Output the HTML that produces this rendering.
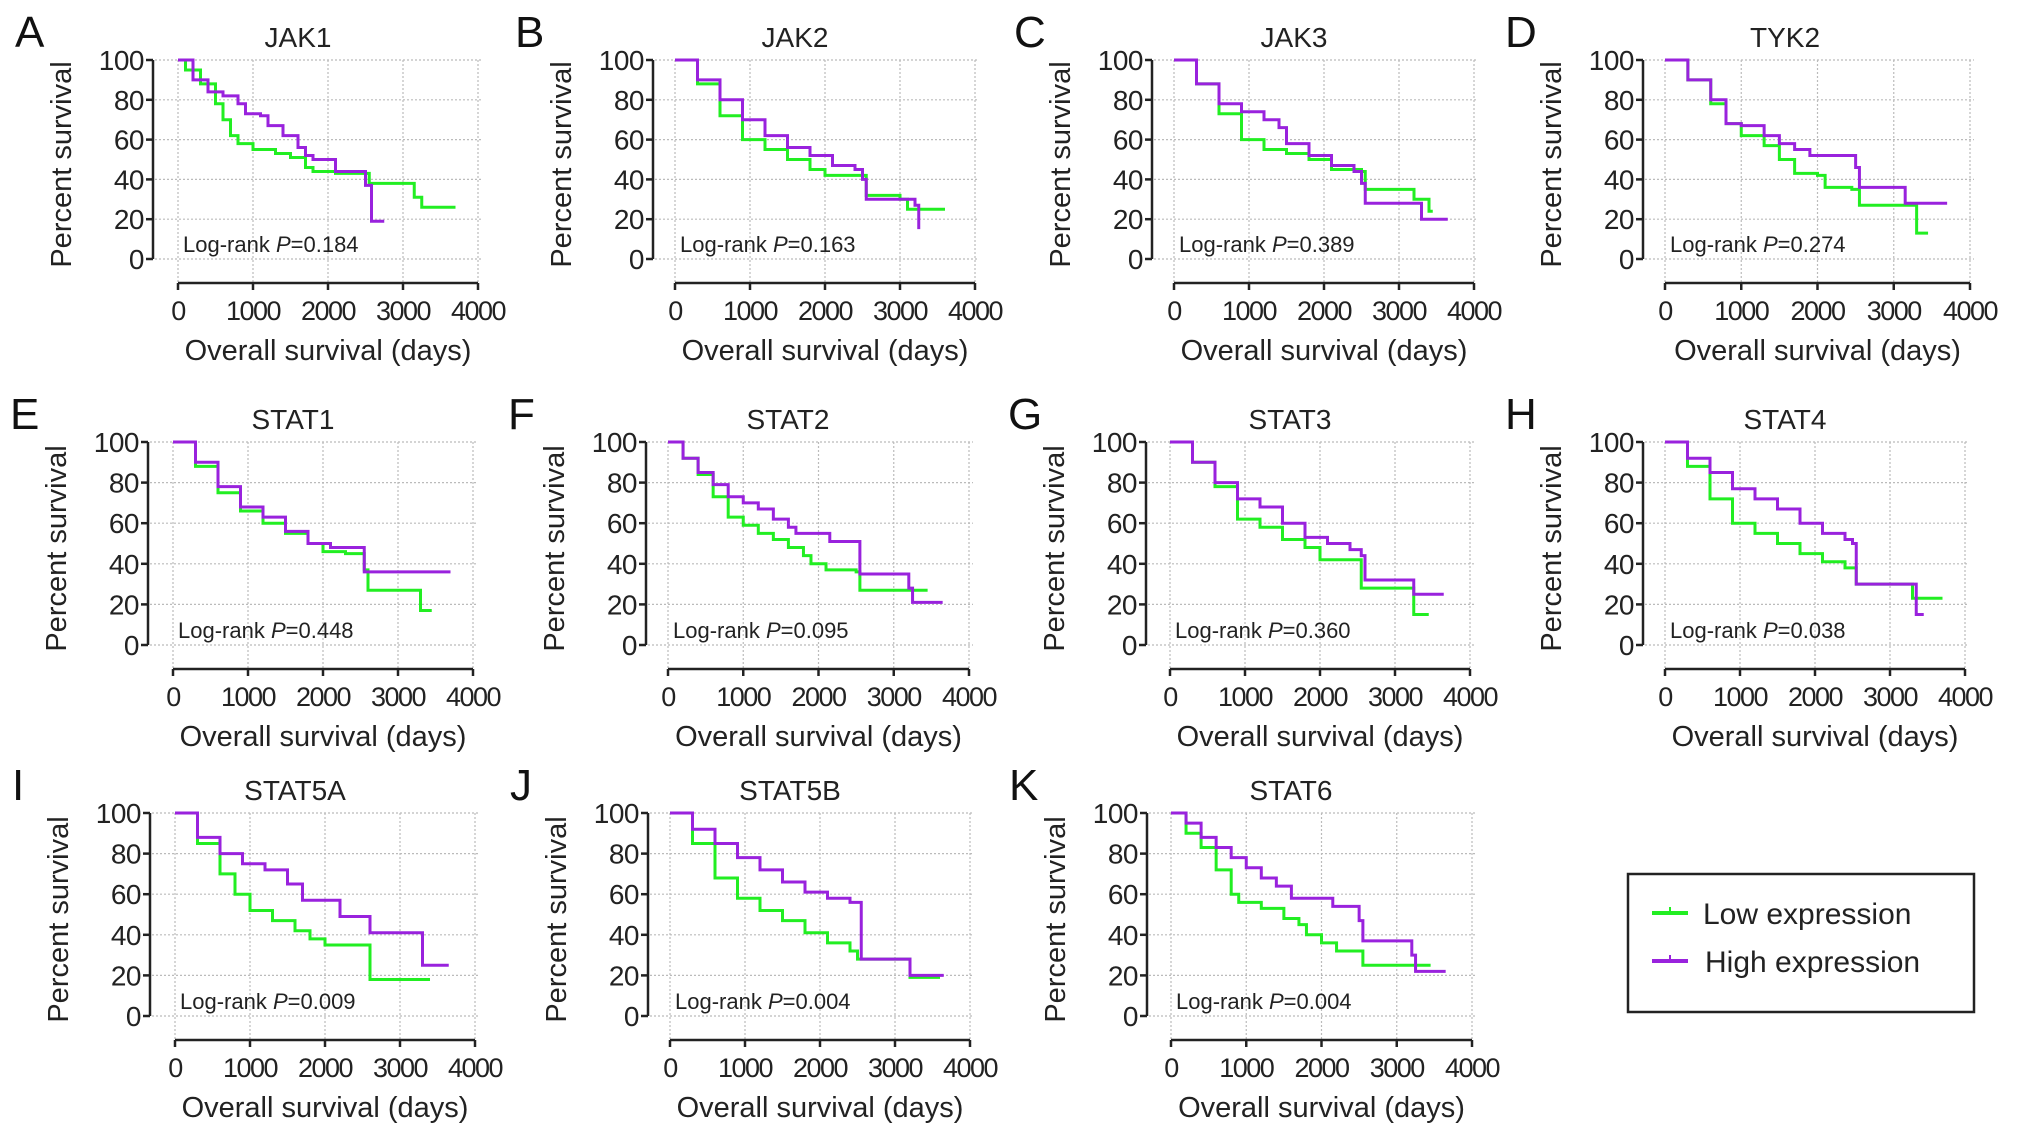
<!DOCTYPE html>
<html><head><meta charset="utf-8"><style>
html,body{margin:0;padding:0;background:#fff;}
svg{display:block;font-family:"Liberation Sans",Arial,sans-serif;}
</style></head><body>
<svg id="fig" width="2032" height="1127" viewBox="0 0 2032 1127">
<g id="panels"></g>
<g>
<rect x="1628" y="874" width="346" height="138" fill="#fff" stroke="#222" stroke-width="2.5"/>
<g>
<line x1="1652" y1="913" x2="1688" y2="913" stroke="#22ee22" stroke-width="4"/>
<line x1="1670" y1="913" x2="1670" y2="907" stroke="#22ee22" stroke-width="2"/>
<text x="1703" y="924" font-size="30" fill="#222">Low expression</text></g>
<g>
<line x1="1652" y1="961" x2="1688" y2="961" stroke="#9922dd" stroke-width="4"/>
<line x1="1670" y1="961" x2="1670" y2="955" stroke="#9922dd" stroke-width="2"/>
<text x="1705" y="972" font-size="30" fill="#222">High expression</text></g>
</g>
</svg>
<script>
// ---- data ----
const genes = ["JAK1","JAK2","JAK3","TYK2","STAT1","STAT2","STAT3","STAT4","STAT5A","STAT5B","STAT6"];
const letters = ["A","B","C","D","E","F","G","H","I","J","K"];
const pValues = ["0.184","0.163","0.389","0.274","0.448","0.095","0.360","0.038","0.009","0.004","0.004"];
const xTicks = [0,1000,2000,3000,4000];
const yTicks = [0,20,40,60,80,100];
const lowT = [
 [0,100,300,500,600,700,800,1000,1300,1500,1700,1800,2100,2500,2550,3150,3250,3700],
 [0,300,600,900,1200,1500,1800,2000,2500,2550,3000,3100,3600],
 [0,300,600,900,1200,1500,1800,2100,2500,2550,3200,3400,3450],
 [0,300,600,800,1000,1300,1500,1700,2000,2100,2450,2550,3300,3450],
 [0,300,600,900,1200,1500,1800,2000,2300,2550,2600,3300,3450],
 [0,200,400,600,800,1000,1200,1400,1600,1800,1900,2100,2500,2550,3450],
 [0,300,600,900,1200,1500,1800,2000,2550,3250,3450],
 [0,300,600,900,1200,1500,1800,2100,2400,2550,3300,3700],
 [0,300,600,800,1000,1300,1600,1800,2000,2600,3400],
 [0,300,600,900,1200,1500,1800,2100,2400,2500,3200,3600],
 [0,200,400,600,800,900,1200,1500,1700,1800,2000,2200,2550,3450]
];
const lowS = [
 [100,95,88,78,70,62,58,55,53,51,46,44,43,43,38,31,26,26],
 [100,88,72,60,55,50,45,42,42,32,30,25,25],
 [100,88,73,60,55,53,50,45,44,35,30,24,24],
 [100,90,78,68,62,57,50,43,42,36,35,27,13,13],
 [100,88,75,66,60,55,50,46,45,37,27,17,17],
 [100,92,84,73,63,59,55,52,48,44,40,37,36,27,27],
 [100,90,78,62,58,52,48,42,28,15,15],
 [100,88,72,60,55,50,45,41,38,30,23,23],
 [100,85,70,60,52,47,42,38,35,18,18],
 [100,85,68,58,52,47,41,36,32,28,19,19],
 [100,90,83,72,60,56,53,48,45,40,36,32,25,25]
];
const highT = [
 [0,200,400,600,800,900,1100,1200,1400,1600,1700,1800,2100,2500,2580,2750],
 [0,300,600,900,1200,1500,1800,2100,2400,2500,2550,3200,3250],
 [0,300,600,900,1200,1400,1500,1800,2100,2400,2500,2550,3300,3650],
 [0,300,600,800,1000,1300,1500,1700,1900,2500,2550,3150,3700],
 [0,300,600,900,1200,1500,1800,2100,2550,3700],
 [0,200,400,600,800,1000,1200,1400,1600,1700,2150,2550,3200,3250,3650],
 [0,300,600,900,1200,1500,1800,2100,2400,2550,2600,3250,3650],
 [0,300,600,900,1200,1500,1800,2100,2400,2500,2550,3350,3450],
 [0,300,600,900,1200,1500,1700,2200,2600,3300,3650],
 [0,300,600,900,1200,1500,1800,2100,2400,2550,3200,3650],
 [0,200,400,600,800,1000,1200,1400,1600,2150,2500,2550,3200,3250,3650]
];
const highS = [
 [100,90,84,82,78,73,72,67,62,56,52,50,44,37,19,19],
 [100,90,80,70,62,56,52,47,45,40,30,27,15],
 [100,88,78,74,70,66,58,52,47,44,38,28,20,20],
 [100,90,80,68,67,62,58,55,52,46,36,28,28],
 [100,90,78,68,63,56,50,48,36,36],
 [100,92,85,79,73,70,67,62,58,55,51,35,28,21,21],
 [100,90,80,72,68,60,53,50,47,44,32,25,25],
 [100,92,85,77,72,67,60,55,52,50,30,15,15],
 [100,88,80,75,72,65,57,49,41,25,25],
 [100,92,85,78,72,66,61,58,56,28,20,20],
 [100,95,88,83,78,73,68,64,58,54,47,37,30,22,22]
];
// ---- layout (not data) ----
const layout = [
 [153,178,300,60,259],[653,675,300,60,259],[1152,1174,300,60,259],[1643,1665,305,60,259],
 [148,173,300,442,645],[646,668,301,442,645],[1146,1170,300,442,645],[1643,1665,300,442,645],
 [150,175,300,813,1016],[648,670,300,813,1016],[1147,1171,301,813,1016]
];
const NS="http://www.w3.org/2000/svg";
function mk(tag,attrs,parent){const e=document.createElementNS(NS,tag);for(const k in attrs)e.setAttribute(k,attrs[k]);parent.appendChild(e);return e;}
const root=document.getElementById('panels');
genes.forEach((g,i)=>{
  const [yax,x0,xw,y100,y0]=layout[i];
  const xs=d=>x0+d/4000*xw;
  const ys=v=>y0-(v/100)*(y0-y100);
  const xAxisY=y0+24;
  const grp=mk('g',{},root);
  
  
  const L=mk('text',{x:yax-138,y:y100-13,'font-size':44,fill:'#111'},grp);L.textContent=letters[i];
  
  
  const T=mk('text',{x:x0+120,y:y100-13,'font-size':28,fill:'#222','text-anchor':'middle'},grp);T.textContent=g;
  
  
  yTicks.forEach(v=>{const l=mk('line',{x1:yax+2,x2:x0+xw+4,y1:ys(v),y2:ys(v),stroke:'#bbb','stroke-width':1.2,'stroke-dasharray':'2,2'},grp);
    
    });
  xTicks.forEach(d=>{const l=mk('line',{x1:xs(d),x2:xs(d),y1:y100,y2:xAxisY,stroke:'#bbb','stroke-width':1.2,'stroke-dasharray':'2,2'},grp);
    
    });
  const ya=mk('path',{d:`M${yax},${y100} V${y0}`,stroke:'#222','stroke-width':2.5,fill:'none'},grp);
  
  
  yTicks.forEach(v=>{mk('line',{x1:yax-7,x2:yax,y1:ys(v),y2:ys(v),stroke:'#222','stroke-width':2.5},grp);
    const t=mk('text',{x:yax-9,y:ys(v)+10,'font-size':28,fill:'#222','text-anchor':'end','letter-spacing':'-0.5'},grp);t.textContent=v;
    
    });
  const xa=mk('path',{d:`M${x0},${xAxisY} H${x0+xw}`,stroke:'#222','stroke-width':2.5,fill:'none'},grp);
  
  
  xTicks.forEach(d=>{mk('line',{x1:xs(d),x2:xs(d),y1:xAxisY,y2:xAxisY+7,stroke:'#222','stroke-width':2.5},grp);
    const t=mk('text',{x:xs(d),y:xAxisY+37,'font-size':27,fill:'#222','text-anchor':'middle','letter-spacing':'-1.5'},grp);t.textContent=d;
    
    });
  const xt=mk('text',{x:x0+xw/2,y:xAxisY+77,'font-size':29,fill:'#222','text-anchor':'middle'},grp);xt.textContent='Overall survival (days)';
  
  
  const cy=(y100+y0)/2+5;
  const yt=mk('text',{x:yax-82,y:cy,'font-size':29,fill:'#222','text-anchor':'middle',transform:`rotate(-90 ${yax-82} ${cy})`},grp);yt.textContent='Percent survival';
  
  
  const pt=mk('text',{x:x0+5,y:y0-7,'font-size':22,fill:'#222'},grp);
  pt.innerHTML='Log-rank <tspan font-style="italic">P</tspan>='+pValues[i];
  
  
  const draw=(T,S,col,name)=>{
    let d=`M${xs(T[0])},${ys(S[0])}`;
    for(let k=1;k<T.length;k++){d+=` H${xs(T[k])} V${ys(S[k])}`;}
    const p=mk('path',{d:d,stroke:col,'stroke-width':3,fill:'none'},grp);
    
    
  };
  draw(lowT[i],lowS[i],'#22ee22','low-expression-curve');
  draw(highT[i],highS[i],'#9922dd','high-expression-curve');
});
</script>
</body></html>
